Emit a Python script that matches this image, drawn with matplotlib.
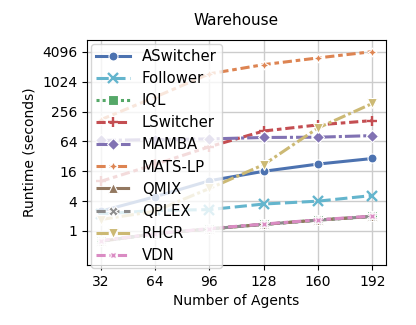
import matplotlib
matplotlib.use("Agg")
import matplotlib.pyplot as plt
import numpy as np

agents = [32, 64, 96, 128, 160, 192]

aswitcher = [2.5, 4.9, 10.3, 16, 22.4, 29]
follower = [2.2, 2.6, 2.7, 3.5, 4.0, 5.2]
iql = [0.62, 0.88, 1.1, 1.36, 1.66, 1.97]
lswitcher = [10, 22, 50, 104, 138, 169]
mamba = [67, 70, 72, 77, 78, 84]
matslp = [175, 500, 1480, 2270, 3100, 4150]
qmix = [0.62, 0.88, 1.1, 1.36, 1.66, 1.97]
qplex = [0.62, 0.88, 1.1, 1.36, 1.66, 1.97]
rhcr = [1.7, 2.5, 7.2, 21.8, 120, 375]
vdn = [0.64, 0.88, 1.12, 1.38, 1.68, 2.0]

series = [
    ("ASwitcher", aswitcher, "#4C72B0", "o", ""),
    ("Follower", follower, "#64B5CD", "x", (4, 1.5)),
    ("IQL", iql, "#55A868", "s", (1, 1)),
    ("LSwitcher", lswitcher, "#C44E52", "+", (3, 1.25, 1.5, 1.25)),
    ("MAMBA", mamba, "#8172B3", "D", (5, 1, 1, 1)),
    ("MATS-LP", matslp, "#DD8452", (4, 1, 0), (3, 1.25, 1.5, 1.25)),
    ("QMIX", qmix, "#937860", "^", (5, 1)),
    ("QPLEX", qplex, "#8C8C8C", "X", (3, 1.5)),
    ("RHCR", rhcr, "#CCB974", "v", (4, 1, 1, 1)),
    ("VDN", vdn, "#DA8BC3", (4, 1, 45), (3, 1.25, 1.5, 1.25)),
]

fig = plt.figure(figsize=(4.16, 3.25), dpi=100)
ax = fig.add_axes([0.209, 0.185, 0.719, 0.692])

for name, vals, col, mk, dash in series:
    ls = "-" if dash == "" else (0, dash)
    if mk in ("x", "+"):
        # line-only markers keep their colour
        ax.plot(agents, vals, color=col, linestyle=ls, linewidth=2.2,
                marker=mk, markersize=6.5, markeredgewidth=1.7, label=name)
    else:
        ax.plot(agents, vals, color=col, linestyle=ls, linewidth=2.2,
                marker=mk, markersize=6.5, markeredgecolor="white",
                markeredgewidth=0.8, label=name)

ax.set_yscale("log", base=2)
ax.set_yticks([1, 4, 16, 64, 256, 1024, 4096])
ax.set_yticklabels(["1", "4", "16", "64", "256", "1024", "4096"])
ax.minorticks_off()
ax.set_ylim(2 ** -2.27, 2 ** 12.8)
ax.set_xticks(agents)
ax.set_xlim(24, 200)
ax.grid(True, color="#cccccc", linewidth=1)
ax.set_axisbelow(True)

ax.set_title("Warehouse", fontsize=11, pad=11)
ax.set_xlabel("Number of Agents", fontsize=10)
ax.set_ylabel("Runtime (seconds)", fontsize=10)
ax.tick_params(labelsize=10)

ax.legend(loc="upper left", fontsize=10.7, handlelength=2.3, labelspacing=0.48,
          borderpad=0.35, edgecolor="#cccccc", framealpha=0.8,
          borderaxespad=0.25)

fig.savefig("out.png", dpi=100)
